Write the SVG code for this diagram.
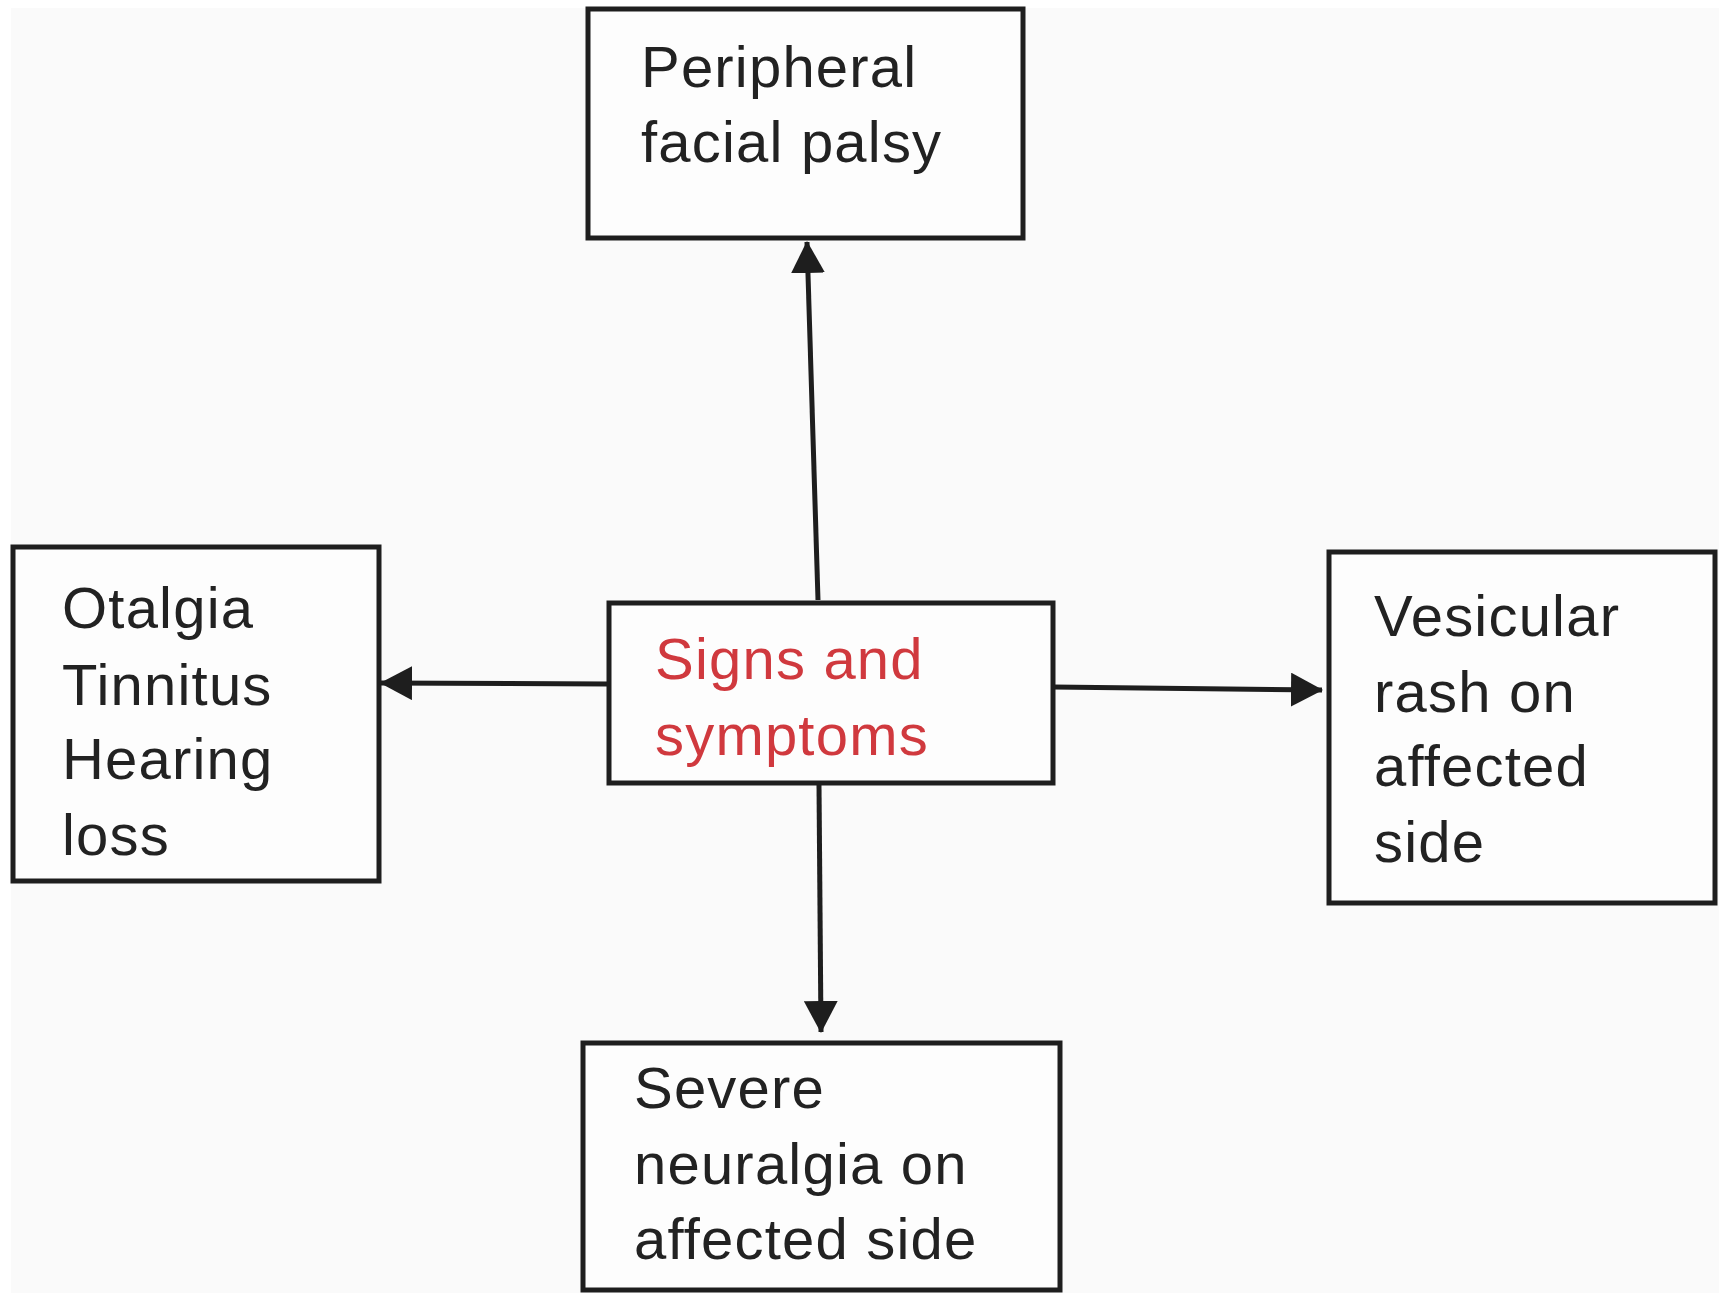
<svg xmlns="http://www.w3.org/2000/svg" width="1729" height="1300" viewBox="0 0 1729 1300">
<style>
.box{fill:#fdfdfd;stroke:#1e1e1e;stroke-width:5}
.t{font-family:"Liberation Sans",Arial,sans-serif;font-size:58px;letter-spacing:1.2px;fill:#222}
.r{fill:#d0393e}
.c{stroke:#1e1e1e;stroke-width:5;fill:none}
</style>
<defs>
<marker id="ah" viewBox="0 0 32 34" refX="31" refY="17" markerWidth="32" markerHeight="34" markerUnits="userSpaceOnUse" orient="auto">
<path d="M0,0 L32,17 L0,34 z" fill="#1e1e1e"/>
</marker>
</defs>
<rect width="1729" height="1300" fill="#ffffff"/>
<rect x="11" y="8" width="1708" height="1285" fill="#fafafa"/>
<g id="connectors">
<line class="c" x1="818" y1="600" x2="807" y2="242" marker-end="url(#ah)"/>
<line class="c" x1="609" y1="684" x2="381" y2="683" marker-end="url(#ah)"/>
<line class="c" x1="1053" y1="687" x2="1322" y2="690" marker-end="url(#ah)"/>
<line class="c" x1="819" y1="785" x2="821" y2="1032" marker-end="url(#ah)"/>
</g>
<g id="node-top">
<rect class="box" x="588" y="9" width="435" height="229"/>
<text class="t" x="641" y="87">Peripheral</text>
<text class="t" x="641" y="162">facial palsy</text>
</g>
<g id="node-center">
<rect class="box" x="609" y="603" width="444" height="180"/>
<text class="t r" x="655" y="679">Signs and</text>
<text class="t r" x="655" y="755">symptoms</text>
</g>
<g id="node-left">
<rect class="box" x="13" y="547" width="366" height="334"/>
<text class="t" x="62" y="628">Otalgia</text>
<text class="t" x="62" y="705">Tinnitus</text>
<text class="t" x="62" y="779">Hearing</text>
<text class="t" x="62" y="855">loss</text>
</g>
<g id="node-right">
<rect class="box" x="1329" y="552" width="386" height="351"/>
<text class="t" x="1374" y="636">Vesicular</text>
<text class="t" x="1374" y="712">rash on</text>
<text class="t" x="1374" y="786">affected</text>
<text class="t" x="1374" y="862">side</text>
</g>
<g id="node-bottom">
<rect class="box" x="583" y="1043" width="477" height="247"/>
<text class="t" x="634" y="1108">Severe</text>
<text class="t" x="634" y="1184">neuralgia on</text>
<text class="t" x="634" y="1259">affected side</text>
</g>
</svg>
